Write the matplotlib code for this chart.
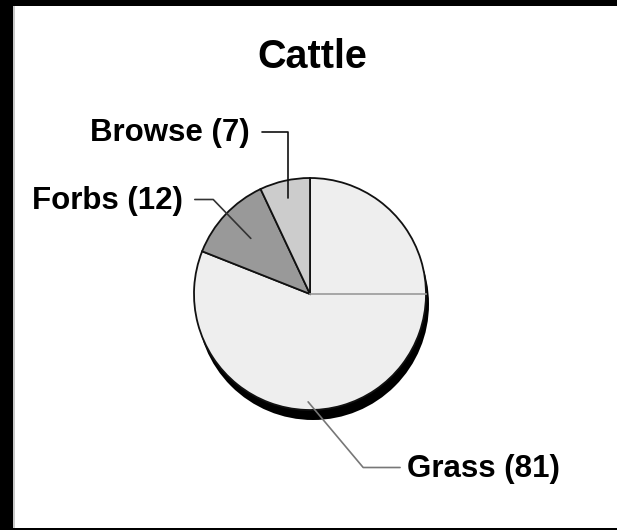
import numpy as np
import matplotlib
matplotlib.use("Agg")
import matplotlib.pyplot as plt
from matplotlib.patches import Rectangle, Circle

# data
labels = ["Grass", "Forbs", "Browse"]
values = [81, 12, 7]
colors = ["#eeeeee", "#999999", "#cccccc"]

# label layout: anchor angle (deg), anchor radius fraction, text position (px), alignment
anchor_angle = [269, None, None]
anchor_frac = [0.93, 0.70, 0.85]
text_pos = [(407, 61), (183, 329), (250, 397)]
text_ha = ["left", "right", "right"]
conn = ["angle,angleA=0,angleB=-50,rad=0",
        "angle,angleA=0,angleB=-46,rad=0",
        "angle,angleA=0,angleB=90,rad=0"]
line_col = ["#777777", "#333333", "#111111"]
gapA = [3, 6.5, 6.5]

W, H = 617, 530
fig = plt.figure(figsize=(W / 100, H / 100), dpi=100, facecolor="black")

# white panel with thin grey left border
fig.patches.append(Rectangle((13 / W, 2 / H), 1 - 13 / W, 1 - 8 / H,
                             transform=fig.transFigure, facecolor="#c8c8c8",
                             edgecolor="none", zorder=-2))
fig.patches.append(Rectangle((15 / W, 2 / H), 1 - 15 / W, 1 - 8 / H,
                             transform=fig.transFigure, facecolor="white",
                             edgecolor="none", zorder=-1))

ax = fig.add_axes([0, 0, 1, 1])
ax.set_xlim(0, W)
ax.set_ylim(0, H)
ax.set_axis_off()
ax.patch.set_visible(False)

cx, cy, r = 310, 236, 116

# drop shadow
ax.add_patch(Circle((cx + 3, cy - 10), r, facecolor="black", edgecolor="none", zorder=1))

wedges, _ = ax.pie(values, colors=colors, startangle=90, counterclock=False,
                   center=(cx, cy), radius=r, frame=True,
                   wedgeprops=dict(edgecolor="#111111", linewidth=1.3, zorder=2))
ax.set_xlim(0, W)
ax.set_ylim(0, H)
ax.set_axis_off()

# the seam line in the grass slice
ax.plot([cx, cx + r], [cy, cy], color="#999999", lw=1.2, zorder=3)

plt.rcParams["font.family"] = ["Liberation Sans", "DejaVu Sans"]

ax.text(312, 462, "Cattle", ha="center", va="baseline", fontsize=28.5,
        fontweight="bold", color="black")

for i, w in enumerate(wedges):
    ang = anchor_angle[i]
    if ang is None:
        ang = (w.theta1 + w.theta2) / 2
    ax_ = cx + anchor_frac[i] * r * np.cos(np.radians(ang))
    ay_ = cy + anchor_frac[i] * r * np.sin(np.radians(ang))
    relx = 0 if text_ha[i] == "left" else 1
    ax.annotate(f"{labels[i]} ({values[i]})", xy=(ax_, ay_), xytext=text_pos[i],
                ha=text_ha[i], va="center", fontsize=22.5, fontweight="bold",
                color="black", zorder=4,
                arrowprops=dict(arrowstyle="-", color=line_col[i], lw=1.2,
                                connectionstyle=conn[i], relpos=(relx, 0.55),
                                shrinkA=gapA[i], shrinkB=0))

fig.savefig("out.png", dpi=100, facecolor="black")
